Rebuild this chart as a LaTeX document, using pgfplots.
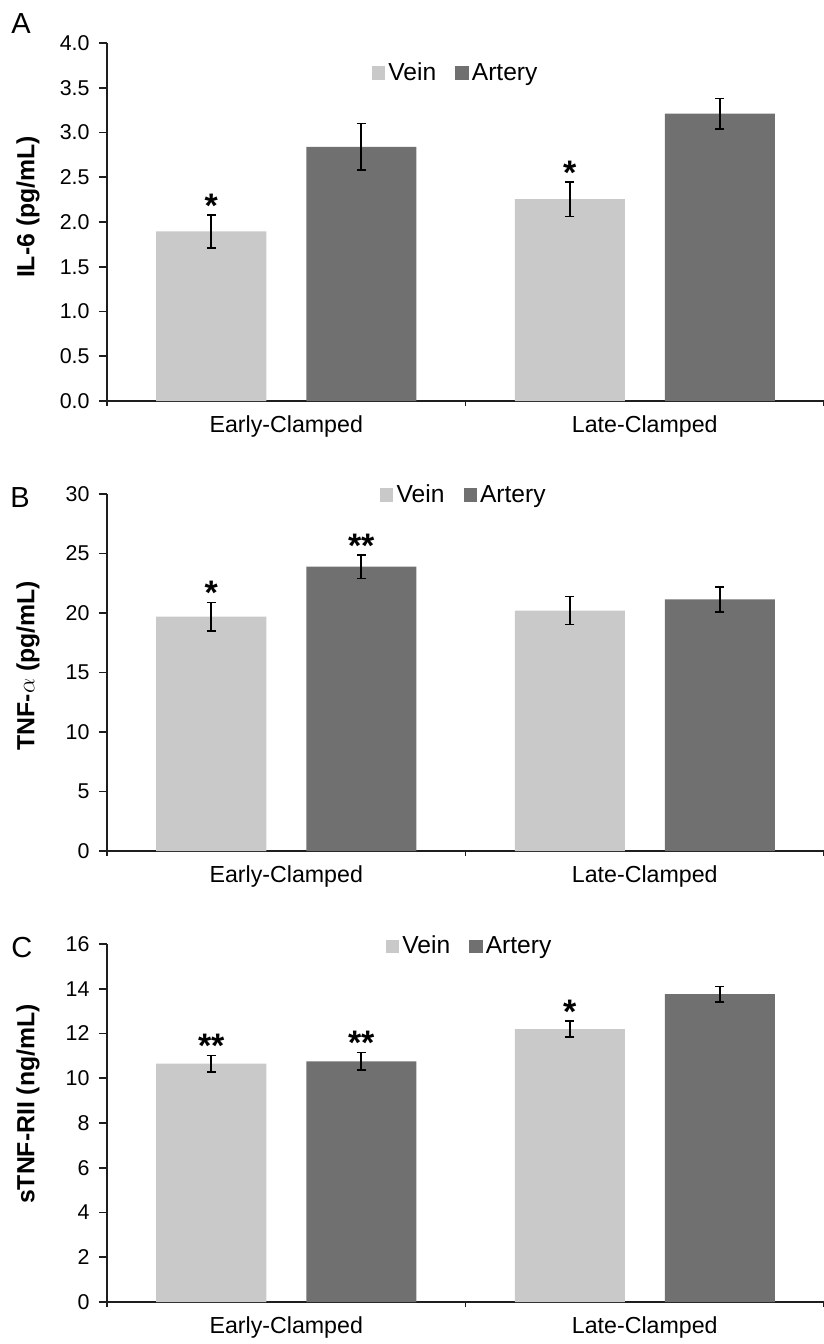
\documentclass[border=0pt]{standalone}
\usepackage{fontspec}
\setmainfont{Liberation Sans}
\usepackage{pgfplots}
\pgfplotsset{compat=1.18}
\definecolor{vein}{HTML}{C9C9C9}
\definecolor{artery}{HTML}{707070}
\definecolor{axisink}{HTML}{1E1E1E}

\tikzset{sig/.style={font=\bfseries\fontsize{17}{17}\selectfont, anchor=base, inner sep=0pt, yshift=-1.2pt}}

\pgfplotsset{
  sq/.style={legend image code/.code={\fill[##1] (0pt,-3.3pt) rectangle (6.6pt,3.3pt);}},
  panel/.style={
    scale only axis, width=358.5pt, height=179pt, anchor=south west,
    axis x line*=bottom, axis y line*=left,
    axis line style={axisink, line width=0.8pt},
    xmin=0, xmax=2, xtick={0.5,1.5}, xticklabels={Early-Clamped,Late-Clamped},
    minor xtick={0,1,2},
    major x tick style={draw=none},
    tick align=outside, major tick length=4pt, minor tick length=2.5pt,
    tick style={axisink, line width=0.8pt},
    ymin=0,
    /pgf/number format/assume math mode=true,
    yticklabel style={font=\fontsize{10.7}{13}\selectfont, xshift=-1.2pt},
    xticklabel style={font=\fontsize{11.6}{14}\selectfont},
    ylabel style={font=\bfseries\fontsize{12.4}{14}\selectfont, anchor=center},
    legend columns=2,
    legend style={draw=none, fill=none, inner sep=0pt, outer sep=0pt, anchor=west,
      font=\fontsize{12.3}{14}\selectfont,
      /tikz/every even column/.append style={column sep=8pt},
      nodes={inner xsep=1.6pt, inner ysep=0pt}},
    ybar=20pt, bar width=55pt,
    error bars/y dir=both, error bars/y explicit,
    error bars/error bar style={black, line width=0.8pt},
    error bars/error mark options={rotate=90, mark size=2.25pt, line width=0.8pt, black},
  },
}

\begin{document}
\begin{tikzpicture}
\useasboundingbox (0,0) rectangle (412pt,-672pt);

% A: IL-6
\begin{axis}[panel, at={(53.5pt,-200.5pt)},
  ymax=4, ytick={0,0.5,...,4},
  yticklabel style={/pgf/number format/.cd, fixed, fixed zerofill, precision=1},
  ylabel={IL-6 (pg/mL)},
  ylabel style={at={(axis description cs:-0.1102,0.542)}},
  legend style={at={(axis description cs:0.3696,0.916)}}]
\addplot[fill=vein, draw=none, sq] coordinates {(0.5,1.895) +- (0,0.185) (1.5,2.255) +- (0,0.195)};
\addplot[fill=artery, draw=none, sq] coordinates {(0.5,2.84) +- (0,0.26) (1.5,3.21) +- (0,0.17)};
\legend{Vein,Artery}
\node[sig, xshift=-37.5pt] at (axis cs:0.5,2.08) {*};
\node[sig, xshift=-37.5pt] at (axis cs:1.5,2.45) {*};
\end{axis}

% B: TNF-alpha
\begin{axis}[panel, at={(53.5pt,-425.5pt)}, height=178.5pt,
  ymax=30, ytick={0,5,...,30},
  ylabel={TNF-{\mdseries$\alpha$} (pg/mL)},
  ylabel style={at={(axis description cs:-0.1102,0.519)}},
  legend style={at={(axis description cs:0.381,0.997)}}]
\addplot[fill=vein, draw=none, sq] coordinates {(0.5,19.7) +- (0,1.2) (1.5,20.2) +- (0,1.18)};
\addplot[fill=artery, draw=none, sq] coordinates {(0.5,23.9) +- (0,1.0) (1.5,21.15) +- (0,1.06)};
\legend{Vein,Artery}
\node[sig, xshift=-37.5pt] at (axis cs:0.5,20.9) {*};
\node[sig, xshift=37.5pt] at (axis cs:0.5,24.9) {**};
\end{axis}

% C: sTNF-RII
\begin{axis}[panel, at={(53.5pt,-651pt)},
  ymax=16, ytick={0,2,...,16},
  ylabel={sTNF-RII (ng/mL)},
  ylabel style={at={(axis description cs:-0.1102,0.553)}},
  legend style={at={(axis description cs:0.389,0.993)}}]
\addplot[fill=vein, draw=none, sq] coordinates {(0.5,10.65) +- (0,0.37) (1.5,12.2) +- (0,0.36)};
\addplot[fill=artery, draw=none, sq] coordinates {(0.5,10.76) +- (0,0.4) (1.5,13.76) +- (0,0.34)};
\legend{Vein,Artery}
\node[sig, xshift=-37.5pt] at (axis cs:0.5,11.02) {**};
\node[sig, xshift=37.5pt] at (axis cs:0.5,11.16) {**};
\node[sig, xshift=-37.5pt] at (axis cs:1.5,12.56) {*};
\end{axis}

\node[anchor=base west, inner sep=0pt, font=\fontsize{14.5}{14.5}\selectfont] at (5.5pt,-16.5pt) {A};
\node[anchor=base west, inner sep=0pt, font=\fontsize{14.5}{14.5}\selectfont] at (5pt,-253.5pt) {B};
\node[anchor=base west, inner sep=0pt, font=\fontsize{14.5}{14.5}\selectfont] at (5.5pt,-478.5pt) {C};
\end{tikzpicture}
\end{document}
